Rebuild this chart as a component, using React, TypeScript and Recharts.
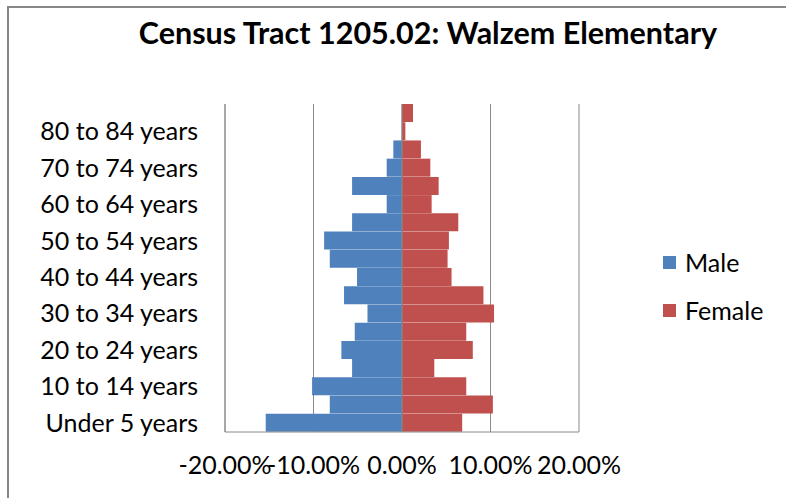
import { BarChart, Bar, XAxis, YAxis, CartesianGrid, Legend, ReferenceLine } from 'recharts';

const ageGroups = [
  'Under 5 years', '5 to 9 years', '10 to 14 years', '15 to 19 years', '20 to 24 years',
  '25 to 29 years', '30 to 34 years', '35 to 39 years', '40 to 44 years', '45 to 49 years',
  '50 to 54 years', '55 to 59 years', '60 to 64 years', '65 to 69 years', '70 to 74 years',
  '75 to 79 years', '80 to 84 years', '85 years and over',
];
// share of tract population, male shown as negative
const maleShare = [
  -0.154, -0.0816, -0.1016, -0.0564, -0.0685, -0.0534, -0.039, -0.0655, -0.0508,
  -0.0816, -0.088, -0.0564, -0.0173, -0.0564, -0.0173, -0.0098, 0, 0,
];
const femaleShare = [
  0.068, 0.1027, 0.0726, 0.0365, 0.08, 0.0726, 0.104, 0.092, 0.056,
  0.0515, 0.053, 0.0636, 0.0335, 0.0414, 0.032, 0.0214, 0.0038, 0.0124,
];
const xTicks = [-0.2, -0.1, 0, 0.1, 0.2];

const MALE = '#4F81BD';
const FEMALE = '#C0504D';
const GRID = '#8A8A8A';
const FONT = 'Lato, "Liberation Sans", sans-serif';

const data = ageGroups.map((age, i) => ({ age, Male: maleShare[i], Female: femaleShare[i] }));

const fmtPct = (v: number) => `${(v * 100).toFixed(2)}%`;

const LegendBox = () => (
  <div style={{ width: 120, fontFamily: FONT, fontSize: 25, color: '#000' }}>
    {[['Male', MALE], ['Female', FEMALE]].map(([name, c]) => (
      <div key={name} style={{ display: 'flex', alignItems: 'center', height: 48 }}>
        <span style={{ width: 13, height: 13, background: c, marginRight: 9, display: 'inline-block' }} />
        <span>{name}</span>
      </div>
    ))}
  </div>
);

export default function App() {
  return (
    <div style={{ position: 'absolute', left: 0, top: 0, width: 786, height: 498, background: '#fff', overflow: 'hidden' }}>
      <div style={{ position: 'absolute', left: 7, top: 6, width: 820, height: 540, border: '2px solid #878787', boxSizing: 'border-box' }} />
      <div style={{
        position: 'absolute', left: 0, width: 856, top: 14, textAlign: 'center',
        fontFamily: FONT, fontWeight: 700, fontSize: 30.5, color: '#000',
      }}>
        Census Tract 1205.02: Walzem Elementary
      </div>
      <div style={{ position: 'absolute', left: 0, top: 0 }}>
        <BarChart
          width={786}
          height={498}
          data={data}
          layout="vertical"
          stackOffset="sign"
          barCategoryGap={0}
          margin={{ top: 104, right: 87, bottom: 0, left: 0 }}
        >
          <CartesianGrid horizontal={false} stroke={GRID} />
          <XAxis
            type="number"
            domain={[-0.2, 0.2]}
            ticks={xTicks}
            interval={0}
            tickFormatter={fmtPct}
            height={66}
            tickSize={0}
            tickMargin={24}
            axisLine={{ stroke: GRID }}
            tick={{ fill: '#000', fontSize: 25, fontFamily: FONT }}
          />
          <YAxis
            type="category"
            dataKey="age"
            reversed
            width={225}
            interval={1}
            tickSize={0}
            tickMargin={27}
            axisLine={{ stroke: GRID }}
            tick={{ fill: '#000', fontSize: 25, fontFamily: FONT }}
          />
          <Legend
            layout="vertical"
            align="right"
            verticalAlign="middle"
            wrapperStyle={{ left: 663, top: 238, width: 120 }}
            content={() => <LegendBox />}
          />
          <Bar dataKey="Male" stackId="p" fill={MALE} isAnimationActive={false} />
          <Bar dataKey="Female" stackId="p" fill={FEMALE} isAnimationActive={false} />
          <ReferenceLine x={0} stroke={GRID} />
        </BarChart>
      </div>
    </div>
  );
}
